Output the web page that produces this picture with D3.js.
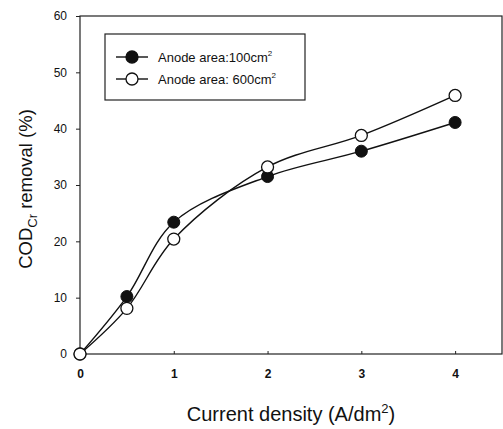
<!DOCTYPE html>
<html>
<head>
<meta charset="utf-8">
<script src="https://cdn.jsdelivr.net/npm/d3@7"></script>
<style>
  html, body { margin: 0; padding: 0; background: #fff; }
  svg { display: block; font-family: "Liberation Sans", Arial, sans-serif; }
</style>
</head>
<body>
<svg id="chart" width="503" height="429"></svg>
<script>
// Current density (A/dm2) at each measurement
const currentDensity = [0, 0.5, 1, 2, 3, 4];
// COD_Cr removal (%) for the two anode areas
const removal100 = [0, 10.2, 23.4, 31.5, 36.0, 41.1];
const removal600 = [0, 8.1, 20.4, 33.2, 38.8, 45.9];
const xTicks = [0, 1, 2, 3, 4];
const yTicks = [0, 10, 20, 30, 40, 50, 60];
const seriesNames = ["Anode area:100cm", "Anode area: 600cm"];

const svg = d3.select("#chart");
const plotLeft = 80, plotRight = 502, plotTop = 16, plotBottom = 354;

const x = d3.scaleLinear().domain([0, 4.5]).range([plotLeft, plotRight]);
const y = d3.scaleLinear().domain([0, 60]).range([plotBottom, plotTop]);

// frame
svg.append("rect")
  .attr("x", plotLeft).attr("y", plotTop)
  .attr("width", plotRight - plotLeft).attr("height", plotBottom - plotTop)
  .attr("fill", "none").attr("stroke", "#222").attr("stroke-width", 1.2);

// axes
const xAxis = d3.axisBottom(x).tickValues(xTicks).tickSizeInner(3).tickSizeOuter(0).tickPadding(12)
  .tickFormat(d3.format("d"));
const gx = svg.append("g").attr("transform", `translate(0,${plotBottom})`).call(xAxis);
gx.select(".domain").remove();
gx.selectAll("line").attr("stroke", "#222").attr("y1", -3).attr("y2", 0);
gx.selectAll("text").attr("font-size", 12).attr("font-weight", "bold").attr("fill", "#111");

const yAxis = d3.axisLeft(y).tickValues(yTicks).tickSizeInner(4).tickSizeOuter(0).tickPadding(9)
  .tickFormat(d3.format("d"));
const gy = svg.append("g").attr("transform", `translate(${plotLeft},0)`).call(yAxis);
gy.select(".domain").remove();
gy.selectAll("line").attr("stroke", "#222");
gy.selectAll("text").attr("font-size", 12).attr("fill", "#111");

// curves
const line = d3.line()
  .x((d, i) => x(currentDensity[i]))
  .y(d => y(d))
  .curve(d3.curveCatmullRom.alpha(0.5));

[removal100, removal600].forEach(vals => {
  svg.append("path").attr("d", line(vals))
    .attr("fill", "none").attr("stroke", "#111").attr("stroke-width", 1.4);
});

// markers: filled for 100 cm2, open for 600 cm2 (open drawn on top)
svg.append("g").selectAll("circle").data(removal100).join("circle")
  .attr("cx", (d, i) => x(currentDensity[i])).attr("cy", d => y(d))
  .attr("r", 6).attr("fill", "#111").attr("stroke", "#111");
svg.append("g").selectAll("circle").data(removal600).join("circle")
  .attr("cx", (d, i) => x(currentDensity[i])).attr("cy", d => y(d))
  .attr("r", 6).attr("fill", "#fff").attr("stroke", "#111").attr("stroke-width", 1.3);

// legend
const lg = svg.append("g");
lg.append("rect").attr("x", 105).attr("y", 34).attr("width", 200).attr("height", 66)
  .attr("fill", "#fff").attr("stroke", "#222").attr("stroke-width", 1.2);
[57, 79].forEach((ly, k) => {
  lg.append("line").attr("x1", 116).attr("x2", 148).attr("y1", ly).attr("y2", ly)
    .attr("stroke", "#111").attr("stroke-width", 1.4);
  lg.append("circle").attr("cx", 132).attr("cy", ly).attr("r", 6)
    .attr("fill", k === 0 ? "#111" : "#fff").attr("stroke", "#111").attr("stroke-width", 1.3);
  const t = lg.append("text").attr("x", 158).attr("y", ly + 5)
    .attr("font-size", 13).attr("fill", "#111");
  t.append("tspan").text(seriesNames[k]);
  t.append("tspan").attr("dy", -6).attr("font-size", 8).text("2");
});

// axis titles
const xt = svg.append("text").attr("x", 291).attr("y", 421).attr("text-anchor", "middle")
  .attr("font-size", 20).attr("fill", "#111");
xt.append("tspan").text("Current density (A/dm");
xt.append("tspan").attr("dy", -8).attr("font-size", 13).text("2");
xt.append("tspan").attr("dy", 8).text(")");

const yt = svg.append("text").attr("transform", "translate(32,189) rotate(-90)")
  .attr("text-anchor", "middle").attr("font-size", 18.5).attr("fill", "#111");
yt.append("tspan").text("COD");
yt.append("tspan").attr("dy", 5).attr("font-size", 13).text("Cr");
yt.append("tspan").attr("dy", -5).text(" removal (%)");
</script>
</body>
</html>
